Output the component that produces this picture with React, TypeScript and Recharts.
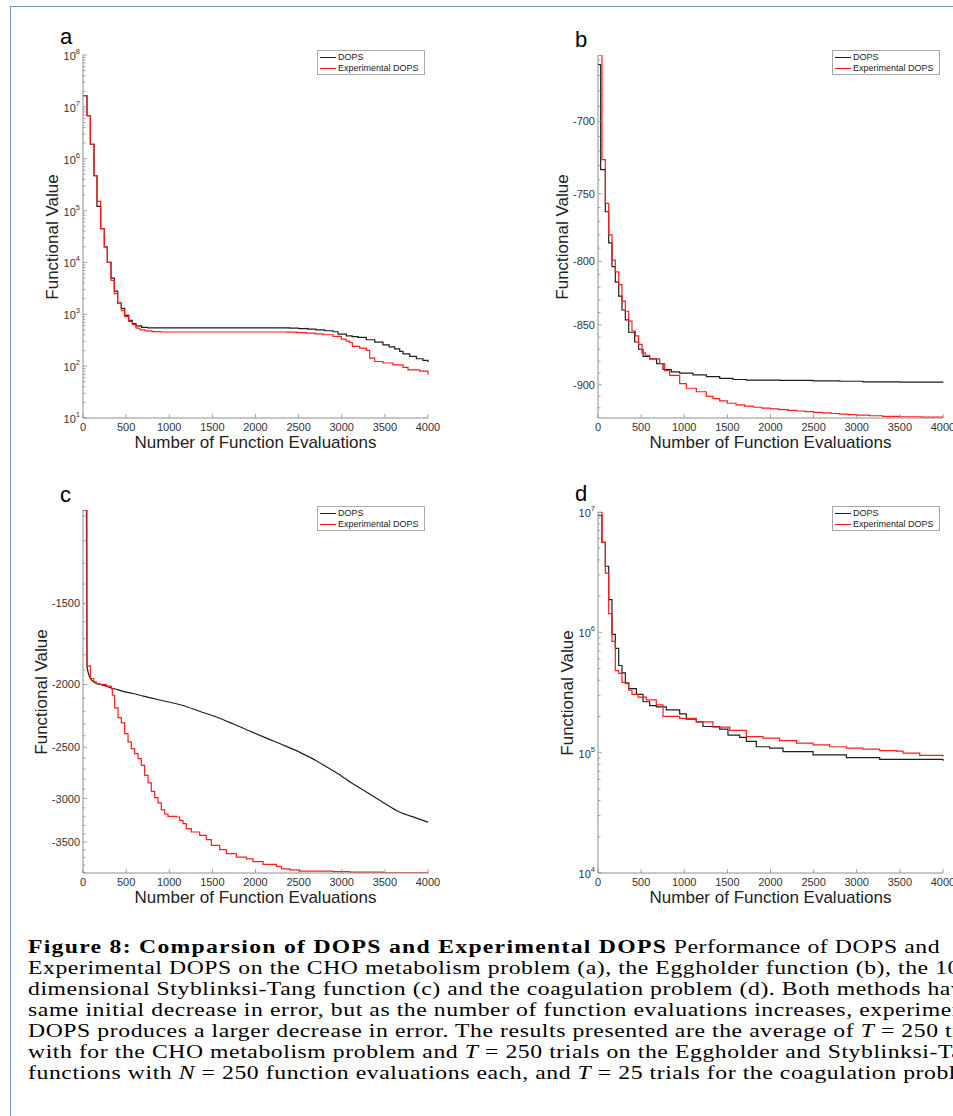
import React from 'react';
import { LineChart, Line, XAxis, YAxis, Legend } from 'recharts';

// Comparaison DOPS / Experimental DOPS — 4 panneaux (a-d) + légende de figure

type Pt = [number, number];

const xTicks = [0, 500, 1000, 1500, 2000, 2500, 3000, 3500, 4000];

// (a) CHO metabolism — échelle log
const aDops: Pt[] = [
  [0, 1.64e7], [46, 6.8e6], [85, 1.9e6], [128, 4.7e5], [162, 1.2e5], [205, 4.5e4],
  [247, 2e4], [282, 1e4], [325, 5e3], [363, 2.8e3], [402, 1.65e3], [444, 1.3e3],
  [483, 950], [530, 760], [572, 660], [614, 600], [680, 560], [750, 545],
  [2396, 541], [2500, 530], [2609, 517], [2700, 500], [2802, 481], [2899, 460],
  [2957, 415], [3053, 385], [3120, 370], [3189, 358], [3285, 323], [3382, 291],
  [3478, 258], [3550, 235], [3614, 216], [3672, 192], [3710, 173], [3788, 154],
  [3865, 139], [3942, 129], [4000, 120],
];
const aExp: Pt[] = [
  [0, 1.64e7], [46, 6.8e6], [85, 1.9e6], [128, 4.7e5], [162, 1.5e5], [205, 4.5e4],
  [247, 2e4], [282, 1e4], [325, 4.5e3], [363, 2.5e3], [402, 1.64e3], [444, 1.18e3],
  [483, 900], [530, 730], [572, 630], [614, 540], [660, 500], [720, 480], [800, 465],
  [900, 455], [2358, 453], [2480, 444], [2590, 434], [2690, 418], [2783, 403],
  [2899, 374], [2995, 333], [3050, 305], [3092, 286], [3123, 240], [3208, 223],
  [3285, 201], [3324, 143], [3382, 123], [3478, 115], [3594, 106], [3710, 95],
  [3768, 85], [3904, 80], [4000, 68],
];

// (b) Eggholder
const bDops: Pt[] = [
  [0, -663], [31, -733], [85, -763], [124, -786], [162, -804], [201, -816],
  [240, -827], [278, -838], [317, -846], [356, -856], [425, -864], [471, -870],
  [522, -876], [599, -878], [680, -882], [754, -887], [850, -889], [947, -890],
  [1101, -891.5], [1256, -893], [1411, -894.5], [1565, -895.5], [1720, -896],
  [2106, -896.3], [2493, -896.6], [2802, -897], [3073, -897.5], [3500, -897.8],
  [4000, -898],
];
const bExp: Pt[] = [
  [0, -657], [46, -726], [85, -757], [124, -780], [162, -799], [201, -808],
  [240, -818], [278, -831], [317, -839], [356, -847], [394, -855], [433, -859],
  [471, -866], [510, -873], [549, -875], [599, -878], [715, -882], [773, -888],
  [831, -892], [947, -899], [1024, -903], [1140, -906], [1256, -910], [1333, -912],
  [1411, -914], [1500, -916], [1600, -917.5], [1700, -918.5], [1800, -919.5],
  [1900, -920.3], [2000, -921], [2100, -921.6], [2200, -922.2], [2300, -922.8],
  [2400, -923.4], [2500, -924], [2600, -924.5], [2700, -925], [2800, -925.6],
  [2900, -926], [3000, -926.5], [3150, -927], [3300, -927.5], [3500, -927.9],
  [3750, -928.3], [4000, -928.6],
];

// (c) Styblinski-Tang
const cDops: Pt[] = [
  [0, -1076], [40, -1076], [46, -1872], [85, -1958], [124, -1981], [155, -1993],
  [193, -2000], [270, -2012], [328, -2025], [400, -2037], [500, -2055], [580, -2065],
  [700, -2085], [800, -2100], [966, -2125], [1160, -2155], [1350, -2200],
  [1546, -2245], [1739, -2300], [1932, -2360], [2126, -2420], [2320, -2480],
  [2512, -2545], [2700, -2620], [2821, -2680], [3000, -2770], [3092, -2826],
  [3285, -2930], [3479, -3041], [3672, -3147], [3850, -3210], [4000, -3261],
];
const cExp: Pt[] = [
  [0, -1076], [46, -1872], [85, -1958], [124, -1981], [155, -1993], [193, -2000],
  [270, -2012], [328, -2030], [340, -2078], [367, -2174], [406, -2250], [444, -2293],
  [483, -2381], [522, -2452], [560, -2512], [599, -2557], [638, -2603], [676, -2666],
  [715, -2763], [754, -2837], [792, -2924], [831, -2990], [870, -3046], [908, -3122],
  [947, -3169], [985, -3195], [1082, -3203], [1121, -3242], [1160, -3280],
  [1198, -3338], [1256, -3378], [1353, -3419], [1430, -3471], [1488, -3542],
  [1585, -3597], [1662, -3649], [1778, -3694], [1894, -3716], [1971, -3752],
  [2087, -3790], [2242, -3818], [2300, -3850], [2396, -3864], [2512, -3883],
  [2899, -3888], [3092, -3897], [3479, -3906], [4000, -3908],
];

// (d) coagulation — échelle log
const dDops: Pt[] = [
  [0, 9.4e6], [46, 5.6e6], [85, 3.54e6], [124, 1.87e6], [162, 9.6e5], [201, 7.35e5],
  [240, 5.3e5], [278, 4.6e5], [317, 3.8e5], [356, 3.4e5], [445, 3.05e5], [522, 2.65e5],
  [599, 2.46e5], [676, 2.4e5], [792, 2.27e5], [947, 2.1e5], [1024, 1.9e5],
  [1140, 1.8e5], [1217, 1.65e5], [1411, 1.57e5], [1507, 1.4e5], [1643, 1.34e5],
  [1720, 1.24e5], [1836, 1.12e5], [1990, 1.09e5], [2145, 1.02e5], [2493, 9.6e4],
  [2880, 9.1e4], [3266, 8.8e4], [4000, 8.55e4],
];
const dExp: Pt[] = [
  [0, 1e7], [46, 5.6e6], [85, 3.1e6], [124, 1.43e6], [162, 8.4e5], [201, 4.8e5],
  [240, 4.56e5], [278, 3.84e5], [317, 3.75e5], [356, 3.3e5], [394, 3.05e5],
  [464, 2.9e5], [560, 2.75e5], [676, 2.5e5], [754, 2.0e5], [947, 1.93e5],
  [1140, 1.8e5], [1333, 1.63e5], [1527, 1.53e5], [1720, 1.36e5], [1913, 1.32e5],
  [2106, 1.26e5], [2300, 1.2e5], [2493, 1.16e5], [2686, 1.12e5], [2880, 1.09e5],
  [3073, 1.07e5], [3266, 1.04e5], [3459, 1.03e5], [3537, 9.9e4], [3730, 9.5e4],
  [4000, 9.3e4],
];

// ticks
const logTicks = (lo: number, hi: number) => {
  const t: number[] = [];
  for (let k = lo; k < hi; k++) for (let m = 1; m < 10; m++) t.push(m * 10 ** k);
  t.push(10 ** hi);
  return t;
};
const aTicks = logTicks(1, 8);
const dTicks = logTicks(4, 7);
const bTicks = [660, 670, 680, 690, 700, 710, 720, 730, 740, 750, 760, 770, 780, 790, 800,
  810, 820, 830, 840, 850, 860, 870, 880, 890, 900, 910, 920];
const cTicks = [1100, 1200, 1300, 1400, 1500, 1600, 1700, 1800, 1900, 2000, 2100, 2200,
  2300, 2400, 2500, 2600, 2700, 2800, 2900, 3000, 3100, 3200, 3300, 3400, 3500, 3600,
  3700, 3800, 3900];

const BLACK = '#1e1e1e';
const RED = '#ff1c1c';
const AXIS = '#8e8e8e';
const TXT = '#333';
const PLOT_W = 345;

type Curve = 'stepAfter' | 'monotone';

interface PanelCfg {
  letter: string;
  left: number;
  top: number;
  h: number;
  log: boolean; // true: log normal ; false: log de -valeur, inversé
  domain: [number, number];
  ticks: number[];
  isMajor: (v: number) => boolean;
  dops: Pt[];
  exp: Pt[];
  dopsCurve: Curve;
  yLabelX: number;
}

const isDecade = (v: number) => Math.abs(Math.log10(v) - Math.round(Math.log10(v))) < 1e-9;

const panels: PanelCfg[] = [
  { letter: 'a', left: 83, top: 55, h: 363, log: true, domain: [10, 1e8], ticks: aTicks,
    isMajor: isDecade, dops: aDops, exp: aExp, dopsCurve: 'stepAfter', yLabelX: 53 },
  { letter: 'b', left: 598, top: 55, h: 363, log: false, domain: [657, 929], ticks: bTicks,
    isMajor: (v) => v % 50 === 0, dops: bDops, exp: bExp, dopsCurve: 'stepAfter', yLabelX: 563 },
  { letter: 'c', left: 83, top: 510, h: 363, log: false, domain: [1076, 3908], ticks: cTicks,
    isMajor: (v) => v % 500 === 0, dops: cDops, exp: cExp, dopsCurve: 'monotone', yLabelX: 42 },
  { letter: 'd', left: 598, top: 512, h: 361, log: true, domain: [1e4, 1e7], ticks: dTicks,
    isMajor: isDecade, dops: dDops, exp: dExp, dopsCurve: 'stepAfter', yLabelX: 568 },
];

function LegendBox() {
  const row = (color: string, text: string) => (
    <div style={{ display: 'flex', alignItems: 'center', height: 11 }}>
      <span style={{ display: 'inline-block', width: 16, height: 0, borderTop: `1.3px solid ${color}`, marginRight: 2 }} />
      <span>{text}</span>
    </div>
  );
  return (
    <div
      style={{
        width: 104, height: 22, border: '1px solid #a8a8a8', background: '#fff',
        padding: '1px 0 0 2px', fontSize: 9, color: '#222', lineHeight: '11px',
        fontFamily: '"Liberation Sans", Arial, sans-serif',
      }}
    >
      {row(BLACK, 'DOPS')}
      {row(RED, 'Experimental DOPS')}
    </div>
  );
}

function Panel({ cfg }: { cfg: PanelCfg }) {
  const toRows = (pts: Pt[]) => pts.map(([x, v]) => ({ x, y: cfg.log ? v : -v }));
  const renderYTick = (p: any) => {
    const v = p.payload.value as number;
    const major = cfg.isMajor(v);
    return (
      <g>
        <line x1={p.x} y1={p.y} x2={p.x + (major ? 4 : 2.5)} y2={p.y} stroke={AXIS} strokeWidth={0.8} />
        {major && (cfg.log ? (
          <text x={p.x - 3} y={p.y + 5} textAnchor="end" fontSize={11} fill={TXT}>
            10<tspan dy={-6} fontSize={7.5}>{Math.round(Math.log10(v))}</tspan>
          </text>
        ) : (
          <text x={p.x - 3} y={p.y + 4} textAnchor="end" fontSize={11} fill={TXT}>{`-${v}`}</text>
        ))}
      </g>
    );
  };
  const renderXTick = (p: any) => (
    <g>
      <line x1={p.x} y1={p.y} x2={p.x} y2={p.y - 4} stroke={AXIS} strokeWidth={0.8} />
      <text x={p.x} y={p.y + 13} textAnchor="middle" fontSize={11} fill={TXT}>{p.payload.value}</text>
    </g>
  );
  const midY = cfg.top + cfg.h / 2;
  return (
    <>
      <div style={{ position: 'absolute', left: cfg.left - 70, top: cfg.top - 10 }}>
        <LineChart width={70 + PLOT_W + 40} height={10 + cfg.h + 50} margin={{ top: 10, right: 40, left: 0, bottom: 0 }}>
          <XAxis
            type="number" dataKey="x" domain={[0, 4000]} ticks={xTicks} interval={0}
            height={50} tickSize={0} tickMargin={0} tickLine={false}
            axisLine={{ stroke: AXIS }} tick={renderXTick}
          />
          <YAxis
            type="number" dataKey="y" scale="log" domain={cfg.domain} allowDataOverflow
            reversed={!cfg.log} ticks={cfg.ticks} interval={0} width={70}
            tickSize={0} tickMargin={0} tickLine={false}
            axisLine={{ stroke: AXIS }} tick={renderYTick}
          />
          <Legend
            layout="vertical" align="center" verticalAlign="middle"
            wrapperStyle={{ left: (cfg.left === 83 ? 317 : 832) - (cfg.left - 70), top: 5 + (cfg.top === 55 ? 0 : 1) + (cfg.top === 512 ? -2 : 0), width: 108 }}
            content={() => <LegendBox />}
          />
          <Line data={toRows(cfg.dops)} dataKey="y" type={cfg.dopsCurve} stroke={BLACK} strokeWidth={1.2} dot={false} isAnimationActive={false} />
          <Line data={toRows(cfg.exp)} dataKey="y" type="stepAfter" stroke={RED} strokeWidth={1.2} dot={false} isAnimationActive={false} />
        </LineChart>
      </div>
      <div style={{ position: 'absolute', left: cfg.left - 23, top: cfg.top - (cfg.log ? 29 : 26), fontSize: 22, lineHeight: '22px', color: '#000' }}>
        {cfg.letter}
      </div>
      <div
        style={{
          position: 'absolute', left: cfg.yLabelX, top: midY, fontSize: 17, color: '#222',
          whiteSpace: 'nowrap', transform: 'translate(-50%, -50%) rotate(-90deg)',
        }}
      >
        Functional Value
      </div>
      <div
        style={{
          position: 'absolute', left: cfg.left + PLOT_W / 2, top: cfg.top + cfg.h + 25, fontSize: 17,
          color: '#222', whiteSpace: 'nowrap', transform: 'translate(-50%, -50%)',
        }}
      >
        Number of Function Evaluations
      </div>
    </>
  );
}

export default function App() {
  return (
    <div
      style={{
        position: 'absolute', left: 0, top: 0, width: 953, height: 1116, overflow: 'hidden',
        background: '#fff', fontFamily: '"Liberation Sans", Arial, sans-serif',
      }}
    >
      <div
        style={{
          position: 'absolute', left: 10, top: 6, width: 1200, height: 1300,
          borderLeft: '1.5px solid #7d95b6', borderTop: '1.5px solid #7d95b6',
        }}
      />
      {panels.map((p) => <Panel key={p.letter} cfg={p} />)}
      <div
        style={{
          position: 'absolute', left: 28, top: 937, fontFamily: '"Liberation Serif", serif',
          fontSize: 18.5, lineHeight: '21px', color: '#000', whiteSpace: 'nowrap',
          letterSpacing: 0.45, transform: 'scaleX(1.28)', transformOrigin: 'left top',
        }}
      >
        <div><b style={{ letterSpacing: 1 }}>Figure 8: Comparsion of DOPS and Experimental DOPS</b> Performance of DOPS and</div>
        <div>Experimental DOPS on the CHO metabolism problem (a), the Eggholder function (b), the 10-</div>
        <div>dimensional Styblinksi-Tang function (c) and the coagulation problem (d). Both methods have the</div>
        <div>same initial decrease in error, but as the number of function evaluations increases, experimental</div>
        <div>DOPS produces a larger decrease in error. The results presented are the average of <i>T</i> = 250 trials</div>
        <div>with for the CHO metabolism problem and <i>T</i> = 250 trials on the Eggholder and Styblinksi-Tang</div>
        <div>functions with <i>N</i> = 250 function evaluations each, and <i>T</i> = 25 trials for the coagulation problem.</div>
      </div>
    </div>
  );
}
